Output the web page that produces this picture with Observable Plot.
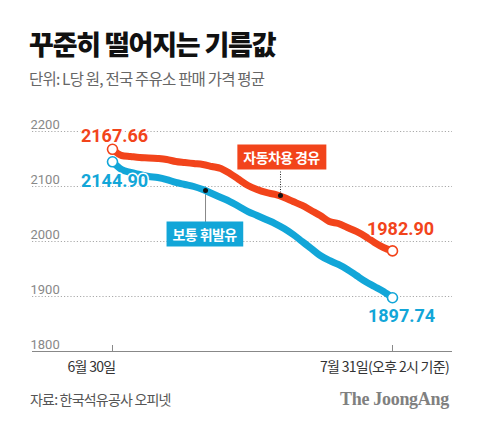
<!DOCTYPE html>
<html><head><meta charset="utf-8">
<script src="https://cdn.jsdelivr.net/npm/d3@7"></script>
<script src="https://cdn.jsdelivr.net/npm/@observablehq/plot@0.6"></script>
<style>
body{margin:0;background:#fff;width:480px;height:427px;position:relative;overflow:hidden;font-family:"Noto Sans CJK KR",sans-serif;}
#title{position:absolute;left:29px;top:30px;font-size:27px;line-height:27px;font-weight:900;color:#111;letter-spacing:-1.2px;white-space:nowrap}
#sub{position:absolute;left:29px;top:70px;font-size:15.5px;line-height:16px;color:#666;letter-spacing:-0.8px;white-space:nowrap}
#chart{position:absolute;left:0;top:110px}
#src{position:absolute;left:30px;top:392px;font-size:14px;line-height:14px;color:#555;letter-spacing:-0.8px;white-space:nowrap}
#logo{position:absolute;left:340px;top:390px;font-family:"Liberation Serif",serif;font-weight:700;font-size:18px;line-height:18px;color:#808080;letter-spacing:-0.3px;white-space:nowrap}
svg text.xl{letter-spacing:-0.7px}
svg text.bl{letter-spacing:-0.6px}
</style>
</head><body>
<div id="title">꾸준히 떨어지는 기름값</div>
<div id="sub">단위: L당 원, 전국 주유소 판매 가격 평균</div>
<div id="chart"></div>
<div id="src">자료: 한국석유공사 오피넷</div>
<div id="logo">The JoongAng</div>
<script>
// Daily prices, 6/30 .. 7/31 (32 days)
const dayLabels = ["6월 30일", "7월 31일(오후 2시 기준)"];
const dayLabelIndex = [0, 31];
const diesel = [2167.66, 2156.4, 2154.5, 2152.7, 2152.0, 2150.9, 2149.1, 2145.5, 2143.6, 2141.8,
  2140.0, 2136.4, 2132.7, 2123.6, 2112.7, 2101.8, 2094.5, 2089.1, 2085.5, 2080.0,
  2072.7, 2065.5, 2056.4, 2047.3, 2036.4, 2032.7, 2025.5, 2018.2, 2009.1, 1998.2,
  1989.1, 1982.90];
const gasoline = [2144.90, 2130.9, 2125.5, 2121.8, 2118.2, 2116.4, 2112.7, 2107.3, 2103.6, 2100.0,
  2094.5, 2087.3, 2080.0, 2072.7, 2063.6, 2054.5, 2047.3, 2040.0, 2032.7, 2023.6,
  2012.7, 2000.0, 1987.3, 1974.5, 1965.5, 1958.2, 1949.1, 1938.2, 1927.3, 1918.2,
  1909.1, 1897.74];
const yTicks = [1800, 1900, 2000, 2100, 2200];
const seriesNames = ["자동차용 경유", "보통 휘발유"];
const seriesColors = ["#F2441B", "#12A6D8"];
// annotation anchor points on the lines (day index, price)
const annoX = [18.6, 10.3];
const annoY = [2083.6, 2092.7];

const orange = seriesColors[0], blue = seriesColors[1];
const dRows = diesel.map((v, i) => ({i, v}));
const gRows = gasoline.map((v, i) => ({i, v}));
const xMin = -8.857, xMax = 37.643;
const num = "Roboto, 'Liberation Sans', sans-serif";
const kr = "'Noto Sans CJK KR', sans-serif";

function endLabel(i, v, c, dx, dy) {
  return Plot.text([v], {x: () => i, y: d => d, text: d => d.toFixed(2), dx, dy, fill: c,
    stroke: "white", strokeWidth: 3, fontSize: 18, fontWeight: 700, fontFamily: num});
}
function boxLabel(k, dx, dy) {
  return Plot.text([k], {x: () => annoX[k], y: () => annoY[k], text: () => seriesNames[k], dx, dy,
    fill: "white", fontSize: 14, fontWeight: 700, fontFamily: kr});
}

const ends = [
  {i: 0, v: diesel[0], c: orange}, {i: 0, v: gasoline[0], c: blue},
  {i: 31, v: diesel[31], c: orange}, {i: 31, v: gasoline[31], c: blue}
];

const chart = Plot.plot({
  width: 480, height: 275,
  marginLeft: 32, marginRight: 28, marginTop: 21, marginBottom: 34,
  x: {domain: [xMin, xMax], axis: null},
  y: {domain: [1800, 2200], axis: null},
  marks: [
    Plot.ruleY(yTicks.slice(1), {stroke: "#aaa", strokeDasharray: "1.2,2"}),
    Plot.ruleY([1800], {stroke: "#888", strokeWidth: 1}),
    Plot.text(yTicks, {x: xMin, y: d => d, text: d => String(d), textAnchor: "start", dx: -2, dy: -7, fill: "#888", fontSize: 13, fontFamily: num}),
    Plot.ruleX(dayLabelIndex, {x: d => d, y1: 1800, y2: 1800, insetBottom: 6, stroke: "#888"}),
    Plot.text([dayLabelIndex[0]], {x: d => d, y: 1800, text: () => dayLabels[0], textAnchor: "end", dy: 16, dx: 3, fill: "#333", fontSize: 14, fontFamily: kr}),
    Plot.text([dayLabelIndex[1]], {x: d => d, y: 1800, text: () => dayLabels[1], dy: 16, dx: -8, fill: "#333", fontSize: 14, fontFamily: kr}),
    // connectors
    Plot.ruleX([0], {x: () => annoX[0], y1: () => annoY[0], y2: () => annoY[0], insetBottom: 25, stroke: "#222", strokeDasharray: "1,1.5"}),
    Plot.ruleX([1], {x: () => annoX[1], y1: () => annoY[1], y2: () => annoY[1], insetBottom: -33, stroke: "#888"}),
    Plot.line(gRows, {x: "i", y: "v", stroke: blue, strokeWidth: 7, curve: "monotone-x", strokeLinecap: "round", strokeLinejoin: "round"}),
    Plot.line(dRows, {x: "i", y: "v", stroke: orange, strokeWidth: 7, curve: "monotone-x", strokeLinecap: "round", strokeLinejoin: "round"}),
    Plot.dot([0, 1], {x: k => annoX[k], y: k => annoY[k], r: 2.5, fill: "#111"}),
    endLabel(0, diesel[0], orange, 2, -13),
    endLabel(0, gasoline[0], blue, 2, 19),
    endLabel(31, diesel[31], orange, 8, -22),
    endLabel(31, gasoline[31], blue, 9, 18),
    Plot.dot(ends, {x: "i", y: "v", r: 5, fill: "white", stroke: "c", strokeWidth: 1.6}),
    boxLabel(0, 1, -37),
    boxLabel(1, -1, 45)
  ]
});
chart.style.overflow = "visible";
document.getElementById("chart").appendChild(chart);

// class names for spacing, and coloured boxes behind the annotation labels
chart.querySelectorAll("text").forEach(t => {
  const s = t.textContent;
  if (dayLabels.includes(s)) t.classList.add("xl");
  const k = seriesNames.indexOf(s);
  if (k >= 0) {
    t.classList.add("bl");
    const b = t.getBBox();
    const padX = 6, h = 25;
    const cy = b.y + b.height / 2;
    const r = document.createElementNS("http://www.w3.org/2000/svg", "rect");
    r.setAttribute("x", b.x - padX); r.setAttribute("y", cy - h / 2);
    r.setAttribute("width", b.width + 2 * padX); r.setAttribute("height", h);
    r.setAttribute("fill", seriesColors[k]);
    const tr = t.getAttribute("transform");
    if (tr) r.setAttribute("transform", tr);
    t.parentNode.insertBefore(r, t);
  }
});
</script>
</body></html>
